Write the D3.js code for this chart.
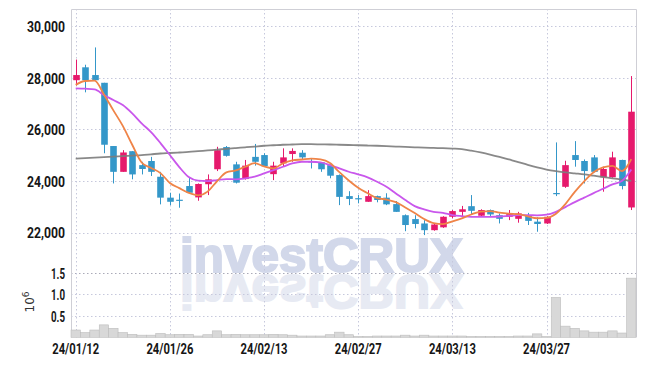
<!DOCTYPE html>
<html><head><meta charset="utf-8">
<script src="https://cdn.jsdelivr.net/npm/d3@7"></script>
<style>body{margin:0;background:#fff}svg{display:block}</style>
</head><body><svg id="c" width="645" height="366"></svg>
<script>
const dates = ["24/01/12","24/01/15","24/01/16","24/01/17","24/01/18","24/01/19","24/01/22","24/01/23","24/01/24","24/01/25",
"24/01/26","24/01/29","24/01/30","24/01/31","24/02/01","24/02/02","24/02/05","24/02/06","24/02/07","24/02/08",
"24/02/13","24/02/14","24/02/15","24/02/16","24/02/19","24/02/20","24/02/21","24/02/22","24/02/23","24/02/26",
"24/02/27","24/02/28","24/02/29","24/03/04","24/03/05","24/03/06","24/03/07","24/03/08","24/03/11","24/03/12",
"24/03/13","24/03/14","24/03/15","24/03/18","24/03/19","24/03/20","24/03/21","24/03/22","24/03/25","24/03/26",
"24/03/27","24/03/28","24/03/29","24/04/01","24/04/02","24/04/03","24/04/04","24/04/05","24/04/08","24/04/09"];
const open  = [27900,28400,28100,27800,25350,24350,25150,24610,24770,24160,23350,23270,23800,23360,23870,24450,25310,24640,24070,24930,
25000,24260,24680,25040,25090,24760,24720,24610,24225,23410,23330,23190,23410,23350,23100,22670,22520,22350,22090,22200,
22610,22800,23020,22650,22870,22670,22610,22530,22670,22420,22350,23530,23770,25000,24770,24910,24140,24140,24810,22970];
const high  = [28700,28500,29170,27800,25350,25190,25150,24740,24930,24350,23540,23510,24120,23900,24250,25320,25350,24740,24810,25430,
25070,24740,25260,25260,25190,24870,24720,24640,24250,23600,23450,23640,23430,23520,23220,22700,22670,22480,22330,22630,
22870,23030,23450,22900,22890,22740,22870,22800,22760,22590,22630,25490,24780,25540,24830,25000,24550,25130,24820,28060];
const low   = [27700,27430,27900,25070,23900,24350,24060,24250,24190,23090,23060,22960,23515,23230,23450,24380,24940,23900,24050,24590,
24550,24030,24570,24740,24810,24480,24350,24100,23060,23060,23130,23190,23170,23060,22800,22050,22160,21900,22070,22180,
22550,22610,22710,22640,22610,22350,22480,22380,22290,22030,22330,23410,23730,24550,23900,24330,23580,24120,23670,22870];
const close = [28100,27900,27900,25400,24350,25100,24250,24460,24350,23350,23190,23250,23540,23880,24060,25190,24970,23930,24590,24740,
24570,24590,24910,25160,24910,24740,24450,24200,23380,23300,23320,23410,23260,23090,22800,22290,22330,22090,22310,22610,
22830,22900,22840,22870,22700,22530,22710,22740,22450,22330,22610,23510,24610,24810,24380,24350,24460,24910,23800,26680];
const volume = [0.17,0.11,0.17,0.29,0.21,0.11,0.07,0.05,0.05,0.09,0.06,0.07,0.07,0.03,0.06,0.15,0.06,0.07,0.06,0.06,
0.06,0.07,0.06,0.05,0.03,0.03,0.03,0.06,0.12,0.06,0.02,0.02,0.03,0.03,0.03,0.05,0.03,0.05,0.03,0.03,
0.03,0.03,0.02,0.02,0.02,0.02,0.02,0.03,0.03,0.08,0.02,0.93,0.26,0.21,0.15,0.12,0.12,0.15,0.10,1.38];
const ma5  = [27720,27870,27880,27350,26730,26130,25400,24712,24502,24302,23920,23720,23536,23442,23584,23984,24328,24406,24548,24684,
24560,24484,24680,24794,24828,24862,24834,24692,24336,24014,23730,23522,23334,23276,23176,22970,22754,22520,22364,22326,
22434,22548,22698,22810,22828,22768,22730,22710,22626,22552,22568,22728,23102,23574,23984,24332,24522,24582,24380,24840];
const ma20 = [27585,27570,27547,27326,27132,26938,26616,26229,25890,25465,25000,24535,24150,24010,23992,24031,24070,24058,24097,24160,
24290,24419,24547,24677,24740,24740,24716,24612,24484,24353,24252,24136,23965,23772,23515,23256,23023,22895,22802,22764,
22674,22635,22609,22609,22609,22620,22647,22674,22674,22665,22690,22802,22984,23178,23352,23527,23693,23864,23992,24438];
const ma60 = [24860,24880,24900,24920,24940,24960,24980,25000,25030,25060,25080,25100,25120,25150,25180,25210,25240,25270,25300,25330,
25360,25380,25400,25410,25420,25420,25415,25410,25400,25390,25380,25370,25360,25345,25330,25315,25300,25285,25275,25265,
25250,25230,25170,25100,25020,24930,24830,24730,24620,24520,24440,24380,24330,24290,24250,24200,24150,24100,24050,24000];
const priceTicks = [22000,24000,26000,28000,30000];
const volTicks = [0.5,1.0,1.5];
const dateTicks = ["24/01/12","24/01/26","24/02/13","24/02/27","24/03/13","24/03/27"];

const svg = d3.select("#c");
const L = 71, R = 636, T = 9, B = 337.3;
const x = d3.scaleBand().domain(dates).range([L, R]).padding(0);
const cx = d => x(d) + x.bandwidth()/2;
const y = d3.scaleLinear().domain([22000,30000]).range([232.5,26]);
const yv = d3.scaleLinear().domain([0,1.5]).range([B,273]);
const font = "Roboto,'DejaVu Sans Condensed',sans-serif";

// watermark
const wm = svg.append("g");
wm.append("text").attr("x",180).attr("y",272).attr("textLength",283).attr("lengthAdjust","spacingAndGlyphs")
  .attr("font-family","'Liberation Sans',Arial,sans-serif").attr("font-weight","bold").attr("font-size",49)
  .attr("fill","#d2d8ea").attr("stroke","#d2d8ea").attr("stroke-width",2).text("investCRUX");
wm.append("text").attr("x",180).attr("y",272).attr("textLength",283).attr("lengthAdjust","spacingAndGlyphs")
  .attr("transform","translate(0,547) scale(1,-1)")
  .attr("font-family","'Liberation Sans',Arial,sans-serif").attr("font-weight","bold").attr("font-size",49)
  .attr("fill","#e7eaf3").attr("stroke","#e7eaf3").attr("stroke-width",2).text("investCRUX");

// grid
const grid = svg.append("g").attr("stroke","#c6c8dc").attr("stroke-width",1).attr("stroke-dasharray","1.5,2.5");
grid.selectAll(".hp").data(priceTicks).join("line").attr("x1",L).attr("x2",R)
  .attr("y1",d=>Math.round(y(d))+0.5).attr("y2",d=>Math.round(y(d))+0.5);
grid.selectAll(".hv").data(volTicks).join("line").attr("x1",L).attr("x2",R)
  .attr("y1",d=>Math.round(yv(d))+0.5).attr("y2",d=>Math.round(yv(d))+0.5)
  .attr("stroke",d=>d===1.5?"#aaaab8":null);
grid.selectAll(".vx").data(dateTicks).join("line").attr("y1",T).attr("y2",B)
  .attr("x1",d=>Math.round(cx(d))+0.5).attr("x2",d=>Math.round(cx(d))+0.5);

// frame
svg.append("path").attr("d",`M${L+0.5},${B}V${T+0.5}H${R+0.5}V${B}`).attr("fill","none").attr("stroke","#cfcfd6");

// volume bars
svg.append("g").selectAll("rect").data(dates).join("rect")
  .attr("x",d=>x(d)).attr("width",x.bandwidth())
  .attr("y",(d,i)=>yv(volume[i])).attr("height",(d,i)=>B-yv(volume[i]))
  .attr("fill","#d8d8d8").attr("stroke","#bdbdbd").attr("stroke-width",0.6);

// candles
const up = "#e6196c", dn = "#3497c9";
const cg = svg.append("g");
dates.forEach((d,i)=>{
  const col = close[i] >= open[i] ? up : dn;
  const xc = Math.round(cx(d)) + 0.5;
  cg.append("line").attr("x1",xc).attr("x2",xc).attr("y1",y(high[i])).attr("y2",y(low[i])).attr("stroke",col).attr("stroke-width",1);
  const top = y(Math.max(open[i],close[i])), bot = y(Math.min(open[i],close[i]));
  cg.append("rect").attr("x",xc-3.3).attr("width",6.6).attr("y",top).attr("height",Math.max(1.2,bot-top)).attr("fill",col);
});

// moving averages
const line = arr => d3.line().x((d,i)=>cx(dates[i])).y(d=>y(d)).curve(d3.curveMonotoneX)(arr);
svg.append("path").attr("d",line(ma60)).attr("fill","none").attr("stroke","#7c7c7c").attr("stroke-width",1.8).attr("opacity",0.9);
svg.append("path").attr("d",line(ma20)).attr("fill","none").attr("stroke","#c957ec").attr("stroke-width",1.8);
svg.append("path").attr("d",line(ma5)).attr("fill","none").attr("stroke","#ef8448").attr("stroke-width",1.8);

// axes labels
const ax = svg.append("g").attr("font-family",font).attr("font-weight",700).attr("font-size",15.5).attr("fill","#161616");
ax.selectAll(".py").data(priceTicks).join("text").attr("x",65).attr("y",d=>y(d)).attr("dy","0.38em")
  .attr("text-anchor","end").attr("textLength",38).attr("lengthAdjust","spacingAndGlyphs").text(d=>d3.format(",")(d));
ax.selectAll(".vy").data(volTicks).join("text").attr("x",65).attr("y",d=>yv(d)).attr("dy","0.38em")
  .attr("text-anchor","end").attr("textLength",14).attr("lengthAdjust","spacingAndGlyphs").text(d=>d.toFixed(1));
ax.selectAll(".dx").data(dateTicks).join("text").attr("x",d=>cx(d)-23.5).attr("y",353.5)
  .attr("textLength",47).attr("lengthAdjust","spacingAndGlyphs").text(d=>d);
const ex = svg.append("text").attr("transform","translate(34,302) rotate(-90)").attr("text-anchor","middle")
  .attr("font-family","'DejaVu Sans',sans-serif").attr("font-size",12).attr("fill","#333");
ex.append("tspan").text("10");
ex.append("tspan").attr("dy",-5).attr("font-size",9).text("6");
</script></body></html>
